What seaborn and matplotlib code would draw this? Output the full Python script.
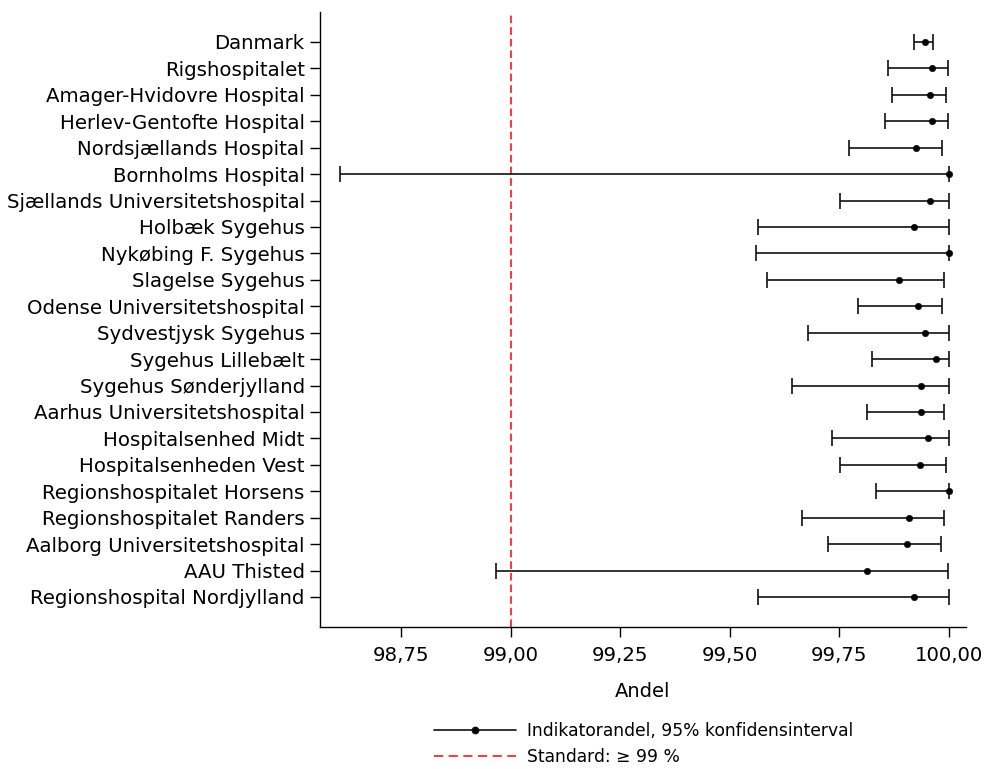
import numpy as np
import pandas as pd
import matplotlib
matplotlib.use("Agg")
import matplotlib.pyplot as plt
from matplotlib.lines import Line2D
from matplotlib.ticker import MultipleLocator, FuncFormatter
import seaborn as sns

hospitals = [
    "Danmark", "Rigshospitalet", "Amager-Hvidovre Hospital", "Herlev-Gentofte Hospital",
    "Nordsjællands Hospital", "Bornholms Hospital", "Sjællands Universitetshospital",
    "Holbæk Sygehus", "Nykøbing F. Sygehus", "Slagelse Sygehus",
    "Odense Universitetshospital", "Sydvestjysk Sygehus", "Sygehus Lillebælt",
    "Sygehus Sønderjylland", "Aarhus Universitetshospital", "Hospitalsenhed Midt",
    "Hospitalsenheden Vest", "Regionshospitalet Horsens", "Regionshospitalet Randers",
    "Aalborg Universitetshospital", "AAU Thisted", "Regionshospital Nordjylland",
]
andel = [99.945, 99.961, 99.956, 99.961, 99.926, 100.0, 99.956, 99.920, 100.0, 99.885,
         99.930, 99.946, 99.970, 99.936, 99.936, 99.953, 99.933, 100.0, 99.909,
         99.905, 99.813, 99.921]
lower = [99.920, 99.862, 99.869, 99.853, 99.773, 98.609, 99.752, 99.564, 99.560, 99.585,
         99.792, 99.679, 99.825, 99.642, 99.813, 99.734, 99.752, 99.833, 99.665,
         99.725, 98.966, 99.564]
upper = [99.963, 99.997, 99.993, 99.997, 99.985, 100.0, 100.0, 100.0, 100.0, 99.989,
         99.985, 100.0, 100.0, 100.0, 99.989, 100.0, 99.994, 100.0, 99.989,
         99.981, 99.997, 100.0]
standard = 99.0

df = pd.DataFrame({"hospital": hospitals, "andel": andel, "lower": lower, "upper": upper})

sns.set_style("ticks")
plt.rcParams["font.family"] = ["DejaVu Sans"]
plt.rcParams["text.color"] = "black"
plt.rcParams["xtick.labelcolor"] = "black"
plt.rcParams["ytick.labelcolor"] = "black"
plt.rcParams["axes.labelcolor"] = "black"

fig = plt.figure(figsize=(9.87, 7.69), dpi=100)
ax = fig.add_axes([0.3242, 0.1847, 0.6545, 0.7997])

sns.pointplot(data=df, x="andel", y="hospital", order=hospitals, errorbar=None,
              linestyle="none", color="black", markersize=4.6, markeredgewidth=0.4,
              ax=ax, zorder=3)

xerr = np.array([df["andel"] - df["lower"], df["upper"] - df["andel"]])
ax.errorbar(df["andel"], df["hospital"], xerr=xerr, fmt="none", ecolor="#111111",
            elinewidth=1.2, capsize=6, capthick=1.2, zorder=2)

ax.axvline(standard, color="red", lw=1.1, linestyle=(0, (5, 2.6)), zorder=0)

ax.set_xlim(98.564, 100.039)
ax.set_ylim(22.135, -1.135)
ax.xaxis.set_major_locator(MultipleLocator(0.25))
ax.xaxis.set_major_formatter(FuncFormatter(lambda v, p: f"{v:.2f}".replace(".", ",")))
ax.set_xlabel("Andel", fontsize=14, labelpad=12)
ax.set_ylabel("")
ax.tick_params(axis="both", labelsize=14.2, length=7, width=1, color="black")
ax.tick_params(axis="x", pad=7)
ax.tick_params(axis="y", pad=4)
for s in ["left", "bottom"]:
    ax.spines[s].set_linewidth(1)
    ax.spines[s].set_color("black")
sns.despine(ax=ax)

handles = [
    Line2D([], [], color="#111111", lw=1.2, marker="o", markersize=4.6, markerfacecolor="black"),
    Line2D([], [], color="red", lw=1.1, linestyle=(0, (6, 3.6))),
]
labels = ["Indikatorandel, 95% konfidensinterval", "Standard: \u2265 99 %"]
fig.legend(handles, labels, loc="upper left", bbox_to_anchor=(434 / 987, 1 - 722 / 769),
           frameon=False, borderpad=0, borderaxespad=0, handlelength=4.8, handletextpad=0.65,
           labelspacing=0.45, fontsize=12.3)

fig.savefig("out.png", dpi=100)
